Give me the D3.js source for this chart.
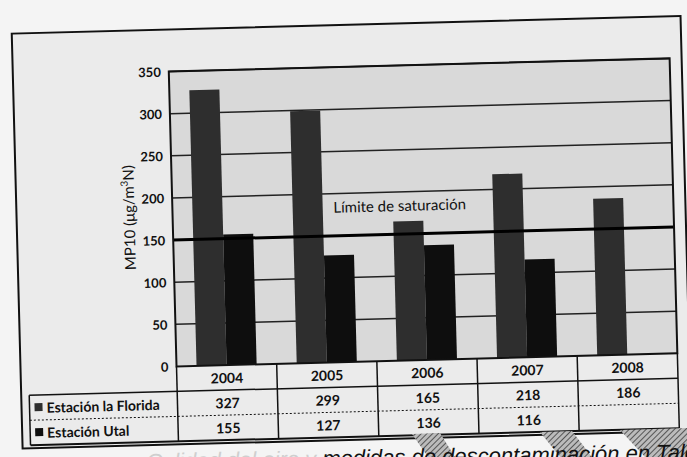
<!doctype html>
<html>
<head>
<meta charset="UTF-8">
<title>MP10 Talca</title>
<script src="https://d3js.org/d3.v7.min.js"></script>
<style>
    body { margin: 0; background: #f4f4f4; }
    svg { display: block; font-family: Lato, "DejaVu Sans", sans-serif; }
</style>
</head>
<body>
<svg width="687" height="457"></svg>
<script>
    // data
    var years = ["2004", "2005", "2006", "2007", "2008"];
    var seriesNames = ["Estación la Florida", "Estación Utal"];
    var florida = [327, 299, 165, 218, 186];
    var utal = [155, 127, 136, 116, null];
    var yTicks = [0, 50, 100, 150, 200, 250, 300, 350];
    var limite = 150;
    var limiteLabel = "Límite de saturación";

    var svg = d3.select("svg");

    // hatch for the scanned arrows under the table
    var hatch = svg.append("defs").append("pattern")
        .attr("id", "hatch").attr("width", 4).attr("height", 4)
        .attr("patternUnits", "userSpaceOnUse")
        .attr("patternTransform", "rotate(45)");
    hatch.append("rect").attr("width", 4).attr("height", 4).attr("fill", "#bbb");
    hatch.append("line").attr("x1", 0).attr("y1", 0).attr("x2", 0).attr("y2", 4)
        .attr("stroke", "#555").attr("stroke-width", 2);

    // page is a slightly tilted scan
    var g = svg.append("g").attr("transform", "rotate(-1.5,343,230)");

    var pLeft = 173, pRight = 674, pTop = 67, pBottom = 362;
    var rowH = 25, headLeft = 25;

    var x0 = d3.scaleBand().domain(years).range([pLeft, pRight]);
    var x1 = d3.scaleBand().domain(seriesNames).range([0, x0.bandwidth() * 0.6]);
    var y = d3.scaleLinear().domain([0, 350]).range([pBottom, pTop]);

    // outer frame
    g.append("rect")
        .attr("x", 17).attr("y", 25).attr("width", 669).attr("height", 415)
        .attr("fill", "#ebebeb").attr("stroke", "#111").attr("stroke-width", 2);

    // plot area
    g.append("rect")
        .attr("x", pLeft).attr("y", pTop).attr("width", pRight - pLeft).attr("height", pBottom - pTop)
        .attr("fill", "#d9d9d9");

    // grid
    g.selectAll("line.grid")
        .data(yTicks.filter(function(d) { return d > 0; }))
        .enter().append("line")
        .attr("class", "grid")
        .attr("x1", pLeft).attr("x2", pRight)
        .attr("y1", function(d) { return y(d); })
        .attr("y2", function(d) { return y(d); })
        .attr("stroke", "#222")
        .attr("stroke-width", 1.5);

    // bars
    var series = [florida, utal];
    var barColors = ["#2e2e2e", "#0e0e0e"];
    series.forEach(function(vals, s) {
        g.selectAll("rect.s" + s)
            .data(vals.map(function(v, i) { return { year: years[i], v: v }; })
                .filter(function(d) { return d.v !== null; }))
            .enter().append("rect")
            .attr("class", "s" + s)
            .attr("x", function(d) { return x0(d.year) + x0.bandwidth() * 0.2 + x1(seriesNames[s]); })
            .attr("y", function(d) { return y(d.v); })
            .attr("width", x1.bandwidth())
            .attr("height", function(d) { return pBottom - y(d.v); })
            .attr("fill", barColors[s]);
    });

    // limit line on top
    g.append("line")
        .attr("x1", pLeft).attr("x2", pRight)
        .attr("y1", y(limite)).attr("y2", y(limite))
        .attr("stroke", "#000").attr("stroke-width", 3);
    g.append("text")
        .attr("x", 334).attr("y", y(limite) - 23)
        .attr("font-size", 15).attr("fill", "#111")
        .text(limiteLabel);

    // plot border
    g.append("rect")
        .attr("x", pLeft).attr("y", pTop).attr("width", pRight - pLeft).attr("height", pBottom - pTop)
        .attr("fill", "none").attr("stroke", "#111").attr("stroke-width", 2);

    // y axis labels
    g.selectAll("text.ytick")
        .data(yTicks)
        .enter().append("text")
        .attr("class", "ytick")
        .attr("x", pLeft - 8)
        .attr("y", function(d) { return y(d) + 5; })
        .attr("text-anchor", "end")
        .attr("font-size", 13).attr("font-weight", "bold").attr("fill", "#111")
        .text(function(d) { return d; });

    var yl = g.append("text")
        .attr("transform", "translate(135,212) rotate(-90)")
        .attr("text-anchor", "middle")
        .attr("font-size", 15).attr("fill", "#111");
    yl.append("tspan").text("MP10 (μg/m");
    yl.append("tspan").attr("font-size", 10).attr("dy", -6).text("3");
    yl.append("tspan").attr("dy", 6).text("N)");

    // data table
    var tbl = g.append("g").attr("stroke", "#111").attr("stroke-width", 1.5);
    tbl.append("line").attr("x1", headLeft).attr("x2", pRight)
        .attr("y1", pBottom + rowH).attr("y2", pBottom + rowH);
    tbl.append("line").attr("x1", headLeft).attr("x2", pRight)
        .attr("y1", pBottom + rowH * 2).attr("y2", pBottom + rowH * 2)
        .attr("stroke-width", 1).attr("stroke-dasharray", "2,2");
    tbl.append("line").attr("x1", headLeft).attr("x2", pRight)
        .attr("y1", pBottom + rowH * 3).attr("y2", pBottom + rowH * 3).attr("stroke-width", 2);
    tbl.append("line").attr("x1", headLeft).attr("x2", headLeft)
        .attr("y1", pBottom + rowH).attr("y2", pBottom + rowH * 3);
    tbl.selectAll("line.col")
        .data(years.concat(["end"]))
        .enter().append("line")
        .attr("class", "col")
        .attr("x1", function(d) { return d === "end" ? pRight : x0(d); })
        .attr("x2", function(d) { return d === "end" ? pRight : x0(d); })
        .attr("y1", pBottom).attr("y2", pBottom + rowH * 3);

    g.selectAll("text.year")
        .data(years)
        .enter().append("text")
        .attr("class", "year")
        .attr("x", function(d) { return x0(d) + x0.bandwidth() / 2; })
        .attr("y", pBottom + 18)
        .attr("text-anchor", "middle")
        .attr("font-size", 14).attr("font-weight", "bold").attr("fill", "#111")
        .text(function(d) { return d; });

    series.forEach(function(vals, s) {
        g.selectAll("text.v" + s)
            .data(vals)
            .enter().append("text")
            .attr("class", "v" + s)
            .attr("x", function(d, i) { return x0(years[i]) + x0.bandwidth() / 2; })
            .attr("y", pBottom + rowH * (s + 1) + 18)
            .attr("text-anchor", "middle")
            .attr("font-size", 14).attr("font-weight", "bold").attr("fill", "#111")
            .text(function(d) { return d === null ? "" : d; });

        g.append("rect")
            .attr("x", headLeft + 5).attr("y", pBottom + rowH * (s + 1) + 8)
            .attr("width", 8).attr("height", 8)
            .attr("fill", barColors[s]);
        g.append("text")
            .attr("x", headLeft + 17)
            .attr("y", pBottom + rowH * (s + 1) + 18)
            .attr("font-size", 14).attr("font-weight", "bold").attr("fill", "#111")
            .text(seriesNames[s]);
    });

    // scanned arrow shapes below the table (page decoration)
    var arrows = [
        [[412, 434], [440, 433], [455, 457], [428, 457]],
        [[540, 432], [572, 431], [592, 457], [560, 457]],
        [[620, 430], [690, 428], [690, 457], [645, 457]]
    ];
    svg.selectAll("polygon.arrow")
        .data(arrows)
        .enter().append("polygon")
        .attr("class", "arrow")
        .attr("points", function(d) { return d.join(" "); })
        .attr("fill", "url(#hatch)");

    // caption, cut by the page edge
    var cap = svg.append("text")
        .attr("x", 708).attr("y", 463)
        .attr("text-anchor", "end")
        .attr("transform", "rotate(-1,500,460)")
        .attr("font-family", "'Liberation Sans', Arial, sans-serif")
        .attr("font-style", "italic").attr("font-size", 22);
    cap.append("tspan").attr("fill", "#cfcfcf").text("Calidad del aire y ");
    cap.append("tspan").attr("fill", "#111").text("medidas de descontaminación en Talca");
</script>
</body>
</html>
